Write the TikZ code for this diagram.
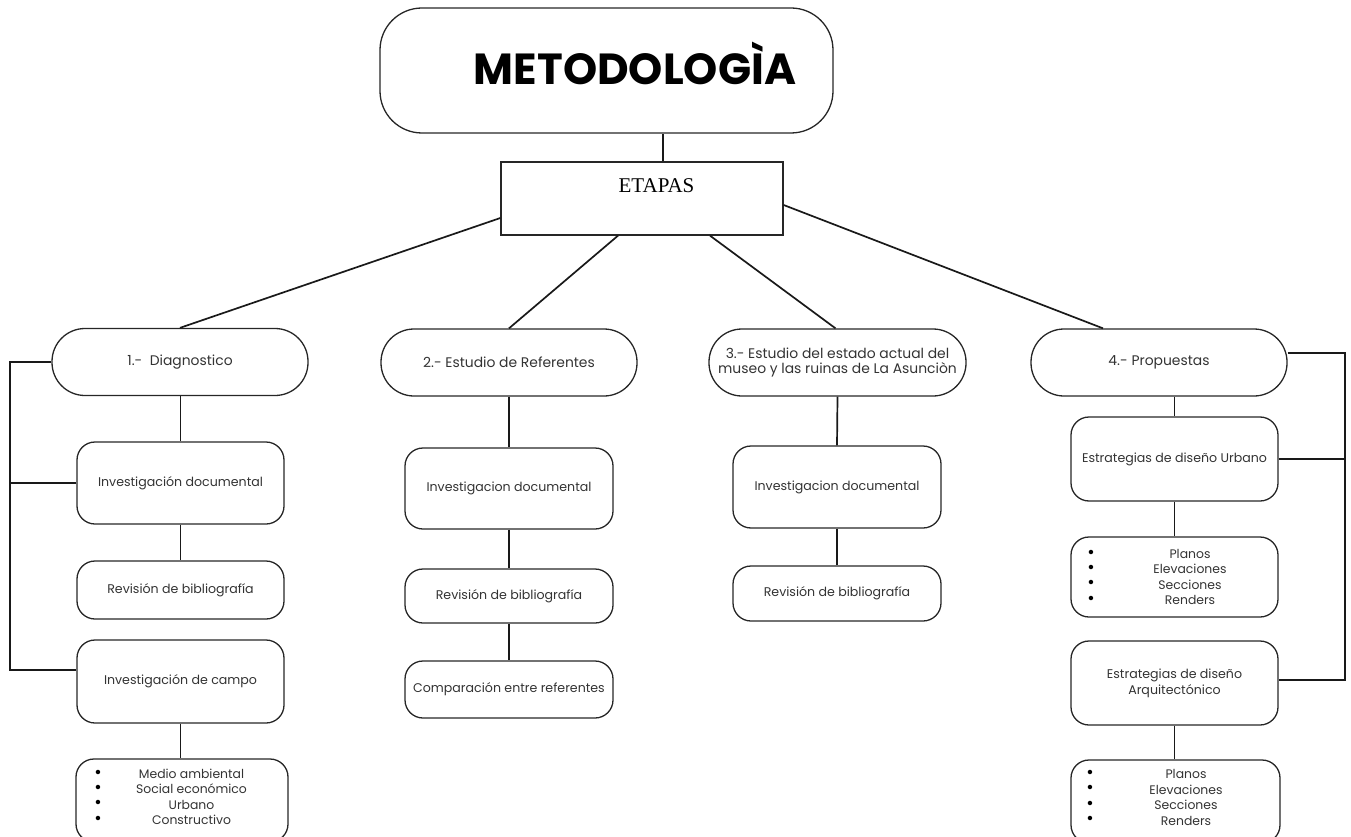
\documentclass[tikz,border=0pt]{standalone}
\usepackage{fontspec}
\setmainfont{Poppins}
\newfontfamily\etapasfont{Liberation Serif}
\begin{document}
\begin{tikzpicture}[x=1pt,y=-1pt,
  box/.style={draw=black!85,line width=1.3pt,inner sep=0pt},
  titlebox/.style={box,rounded corners=42pt,minimum width=453pt,minimum height=125pt},
  etapabox/.style={box,minimum width=282pt,minimum height=73pt},
  stage/.style={box,rounded corners=33pt,minimum width=256pt,minimum height=67pt,align=center,text=black!80,font=\fontsize{13.9}{15.5}\selectfont},
  sub/.style={box,rounded corners=18pt,minimum width=207pt,align=center,text=black!80,font=\fontsize{12.6}{16}\selectfont},
  txt/.style={inner sep=0pt,align=center,text=black!80,font=\fontsize{12.4}{15.4}\selectfont},
  bul/.style={inner sep=0pt,align=center,font=\fontsize{18}{15.4}\selectfont},
  conn/.style={line width=1.7pt,black!90}]
\clip (0,0) rectangle (1351,837);
\useasboundingbox (0,0) rectangle (1351,837);
% title
\node[titlebox] (title) at (606.5,70.5) {};
\node[inner sep=0pt,anchor=base,font=\fontsize{43.5}{50}\selectfont\bfseries] (titlet) at (635,85) {METODOLOGÌA};
\node[etapabox] (etapas) at (642,198.5) {};
\node[inner sep=0pt,font=\etapasfont\fontsize{21}{24}\selectfont] (etapast) at (656.5,186) {ETAPAS};
% stages
\node[stage] (diag) at (180,362) {1.-\ \ Diagnostico};
\node[stage] (ref) at (509,362.5) {2.- Estudio de Referentes};
\node[stage,minimum width=257pt] (est) at (837.5,362.5) {3.- Estudio del estado actual del\\museo y las ruinas de La Asunciòn};
\node[stage] (prop) at (1159,362.5) {4.- Propuestas};
% column 1
\node[sub,minimum height=82pt] (d1) at (180.5,483) {Investigación documental};
\node[sub,minimum height=58pt] (d2) at (180.5,590) {Revisión de bibliografía};
\node[sub,minimum height=83pt] (d3) at (180.5,681.5) {Investigación de campo};
\node[sub,minimum width=212pt,minimum height=83pt] (d4) at (182,800.5) {};
\node[txt] (d4t) at (191.5,797) {Medio ambiental\\Social económico\\Urbano\\Constructivo};
\node[bul] (d4b) at (98,797) {\textbullet\\\textbullet\\\textbullet\\\textbullet};
% column 2
\node[sub,minimum width=208pt,minimum height=81pt] (r1) at (509,488.5) {Investigacion documental};
\node[sub,minimum width=208pt,minimum height=54pt] (r2) at (509,596) {Revisión de bibliografía};
\node[sub,minimum width=208pt,minimum height=57pt] (r3) at (509,689.5) {Comparación entre referentes};
% column 3
\node[sub,minimum width=208pt,minimum height=82pt] (e1) at (837,487) {Investigacion documental};
\node[sub,minimum width=208pt,minimum height=55pt] (e2) at (837,593.5) {Revisión de bibliografía};
% column 4
\node[sub,minimum height=84pt] (p1) at (1174.5,459) {Estrategias de diseño Urbano};
\node[sub,minimum height=80pt] (p2) at (1174.5,577) {};
\node[txt] (p2t) at (1190,577) {Planos\\Elevaciones\\Secciones\\Renders};
\node[bul] (p2b) at (1091,577) {\textbullet\\\textbullet\\\textbullet\\\textbullet};
\node[sub,minimum height=84pt] (p3) at (1174.5,683) {Estrategias de diseño\\Arquitectónico};
\node[sub,minimum width=209pt,minimum height=83pt] (p4) at (1175.5,801.5) {};
\node[txt] (p4t) at (1186,797.5) {Planos\\Elevaciones\\Secciones\\Renders};
\node[bul] (p4b) at (1090,797.5) {\textbullet\\\textbullet\\\textbullet\\\textbullet};
% connectors top
\draw[conn] ([xshift=21pt]etapas.north) -- ([xshift=21pt]etapas.north |- title.south);
\draw[conn] ([yshift=-19.5pt]etapas.west) -- (diag.north);
\draw[conn] ([xshift=-24pt]etapas.south) -- (ref.north);
\draw[conn] ([xshift=68pt]etapas.south) -- ([xshift=-2pt]est.north);
\draw[conn] ([yshift=-6.5pt]etapas.east) -- ([xshift=-56pt]prop.north);
% column connectors
\draw[conn] (diag.south -| d1.north) -- (d1.north);
\draw[conn] (d1.south) -- (d2.north);
\draw[conn] (d3.south) -- (d3.south |- d4.north);
\draw[conn] (ref.south) -- (r1.north);
\draw[conn] (r1.south) -- (r2.north);
\draw[conn] (r2.south) -- (r3.north);
\draw[conn] (est.south) -- (e1.north);
\draw[conn] (e1.south) -- (e2.north);
\draw[conn] (prop.south -| p1.north) -- (p1.north);
\draw[conn] (p1.south) -- (p2.north);
\draw[conn] (p3.south) -- (p3.south |- p4.north);
% brackets
\coordinate (lbt) at (10,362);
\coordinate (lbb) at (10,670);
\draw[conn] (diag.west) -- (lbt) -- (lbb) -- ([yshift=11.5pt]d3.west);
\draw[conn] (d1.west) -- (d1.west -| lbt);
\coordinate (rbt) at (1345,353);
\coordinate (rbb) at (1345,680);
\draw[conn] ([yshift=9.5pt]prop.east) -- (rbt) -- (rbb) -- ([yshift=3pt]p3.east);
\draw[conn] (p1.east) -- (p1.east -| rbt);
\end{tikzpicture}
\end{document}
